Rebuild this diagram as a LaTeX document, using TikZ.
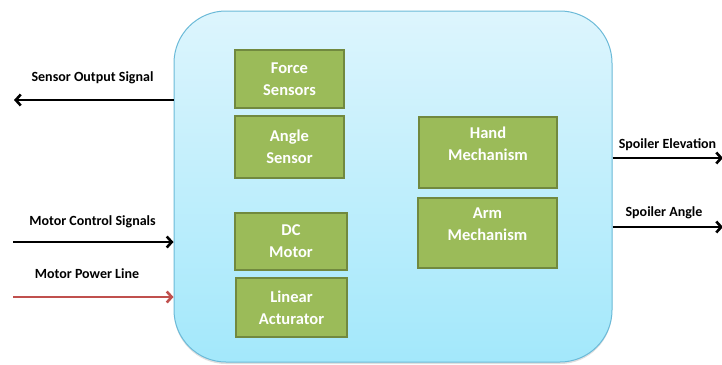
\documentclass[tikz,border=0pt]{standalone}
\usepackage{fontspec}
\setmainfont{Carlito}
\usetikzlibrary{arrows.meta,shadows}

\definecolor{boxgreen}{HTML}{9BBB59}
\definecolor{boxedge}{HTML}{71893F}
\definecolor{skytop}{HTML}{DDF5FD}
\definecolor{skybot}{HTML}{A3E8FB}
\definecolor{skyedge}{HTML}{6BBAD8}
\definecolor{powerred}{HTML}{C0504D}

\begin{document}
\begin{tikzpicture}[x=1pt,y=-1pt,
  part/.style={draw=boxedge, line width=1.6pt, fill=boxgreen, text=white,
    font=\fontsize{16.5}{22}\selectfont\bfseries, align=center, inner sep=0pt},
  lbl/.style={font=\fontsize{14}{17}\selectfont\bfseries, inner sep=0pt},
  sig/.style={line width=2.6pt, -{Straight Barb[length=5pt,width=11pt]}}]
\useasboundingbox (0,0) rectangle (722,364);

% the unit
\node (sys) [draw=skyedge, line width=1pt, rounded corners=52pt,
  top color=skytop, bottom color=skybot,
  drop shadow={shadow xshift=0pt, shadow yshift=-2pt, opacity=0.25},
  minimum width=438pt, minimum height=351pt] at (393,186.5) {};

\node (force) [part, minimum width=109pt, minimum height=58pt] at (289.5,79) {Force\\Sensors};
\node (angle) [part, minimum width=109pt, minimum height=62pt] at (289.5,147) {Angle\\Sensor};
\node (motor) [part, minimum width=112pt, minimum height=57pt] at (291,241.5) {DC\\Motor};
\node (linact) [part, minimum width=111pt, minimum height=59pt] at (291.5,307.5) {Linear\\Acturator};
\node (hand) [part, minimum width=138pt, minimum height=71pt, text depth=18pt] at (488,152.5) {Hand\\Mechanism};
\node (arm) [part, minimum width=139pt, minimum height=70pt, text depth=18pt] at (487.5,233) {Arm\\Mechanism};

% free ends
\coordinate (sout) at (14,100);
\coordinate (mctl) at (13,242);
\coordinate (mpow) at (13,297);
\coordinate (selev) at (723,158);
\coordinate (sang) at (723,227);

\draw [sig] (sys.west |- sout) -- (sout);
\draw [sig] (mctl) -- (sys.west |- mctl);
\draw [sig, powerred] (mpow) -- (sys.west |- mpow);
\draw [sig] (sys.east |- selev) -- (selev);
\draw [sig] (sys.east |- sang) -- (sang);

\node (soutl) [lbl] at (92.5,78) {Sensor Output Signal};
\node (mctll) [lbl] at (92.5,222) {Motor Control Signals};
\node (mpowl) [lbl] at (87,274) {Motor Power Line};
\node (selevl) [lbl] at (667.5,145) {Spoiler Elevation};
\node (sangl) [lbl] at (664,213) {Spoiler Angle};
\end{tikzpicture}
\end{document}
